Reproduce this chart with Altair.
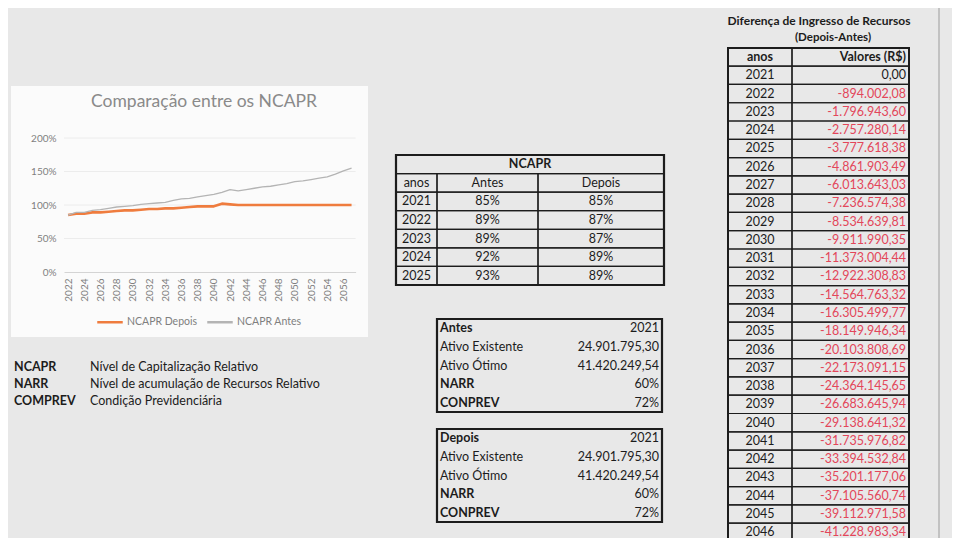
import altair as alt
import pandas as pd

# ---------------- data ----------------
CHART_TITLE = "Comparação entre os NCAPR"
SERIES = ["NCAPR Depois", "NCAPR Antes"]
YEARS = [2022, 2023, 2024, 2025, 2026, 2027, 2028, 2029, 2030, 2031, 2032, 2033,
         2034, 2035, 2036, 2037, 2038, 2039, 2040, 2041, 2042, 2043, 2044, 2045,
         2046, 2047, 2048, 2049, 2050, 2051, 2052, 2053, 2054, 2055, 2056, 2057]
NCAPR_DEPOIS = [0.85, 0.87, 0.87, 0.89, 0.89, 0.90, 0.91, 0.92, 0.92, 0.93, 0.94, 0.94,
                0.95, 0.95, 0.96, 0.97, 0.98, 0.98, 0.98, 1.02, 1.01, 1.00, 1.00, 1.00,
                1.00, 1.00, 1.00, 1.00, 1.00, 1.00, 1.00, 1.00, 1.00, 1.00, 1.00, 1.00]
NCAPR_ANTES = [0.85, 0.89, 0.89, 0.92, 0.93, 0.95, 0.97, 0.98, 0.99, 1.01, 1.02, 1.03,
               1.04, 1.07, 1.09, 1.10, 1.12, 1.14, 1.16, 1.19, 1.23, 1.21, 1.23, 1.25,
               1.27, 1.28, 1.30, 1.32, 1.35, 1.36, 1.38, 1.40, 1.42, 1.46, 1.51, 1.55]
X_TICKS = [2022, 2024, 2026, 2028, 2030, 2032, 2034, 2036, 2038, 2040, 2042, 2044,
           2046, 2048, 2050, 2052, 2054, 2056]
Y_TICKS = [0, 0.5, 1.0, 1.5, 2.0]

T1_TITLE = "NCAPR"
T1_HEAD = ["anos", "Antes", "Depois"]
T1_YEARS = [2021, 2022, 2023, 2024, 2025]
T1_ANTES = [0.85, 0.89, 0.89, 0.92, 0.93]
T1_DEPOIS = [0.85, 0.87, 0.87, 0.89, 0.89]

BOX_NAMES = ["Antes", "Depois"]
BOX_LABELS = ["Ativo Existente", "Ativo Ótimo", "NARR", "CONPREV"]
BOX_YEAR = [2021, 2021]
ATIVO_EXISTENTE = [24901795.30, 24901795.30]
ATIVO_OTIMO = [41420249.54, 41420249.54]
NARR = [0.60, 0.60]
CONPREV = [0.72, 0.72]

DIFF_TITLE = "Diferença de Ingresso de Recursos"
DIFF_SUBTITLE = "(Depois-Antes)"
DIFF_HEAD = ["anos", "Valores (R$)"]
DIFF_YEARS = [2021, 2022, 2023, 2024, 2025, 2026, 2027, 2028, 2029, 2030, 2031, 2032, 2033,
              2034, 2035, 2036, 2037, 2038, 2039, 2040, 2041, 2042, 2043, 2044, 2045, 2046]
DIFF_VALUES = [0.00, -894002.08, -1796943.60, -2757280.14, -3777618.38, -4861903.49,
               -6013643.03, -7236574.38, -8534639.81, -9911990.35, -11373004.44,
               -12922308.83, -14564763.32, -16305499.77, -18149946.34, -20103808.69,
               -22173091.15, -24364145.65, -26683645.94, -29138641.32, -31735976.82,
               -33394532.84, -35201177.06, -37105560.74, -39112971.58, -41228983.34]

GLOSS_ABBR = ["NCAPR", "NARR", "COMPREV"]
GLOSS_TEXT = ["Nível de Capitalização Relativo",
              "Nível de acumulação de Recursos Relativo",
              "Condição Previdenciária"]

# ---------------- style / layout ----------------
FONT = "Lato"
BG = "#e8e8e8"
INK = "#1c1c1c"
RED = "#e3465a"
ORANGE = "#ef7c3e"
GRAY = "#b4b4b4"
AXIS_GRAY = "#7f7f7f"
FS = 12.5
W, H = 944, 530
M = 8  # page margin: layout numbers below are page pixels


def P(v):
    return v - M


def lin(dom, rng):
    return alt.Scale(domain=dom, range=[P(rng[0]), P(rng[1])], nice=False, zero=False)


def br(x, dec=2):
    s = f"{x:,.{dec}f}"
    return s.replace(",", "X").replace(".", ",").replace("X", ".")


def pct(x):
    return f"{round(x * 100):d}%"


def grid(cells, xsc, ysc, sw=1.0):
    df = pd.DataFrame(cells, columns=["x0", "x1", "y0", "y1"])
    return alt.Chart(df).mark_rect(fillOpacity=0, stroke=INK, strokeWidth=sw).encode(
        x=alt.X("x0:Q", scale=xsc, axis=None), x2="x1",
        y=alt.Y("y0:Q", scale=ysc, axis=None), y2="y1")


def texts(rows, xsc, ysc, align="center", bold=False, size=FS, dx=0):
    df = pd.DataFrame(rows, columns=["x", "y", "t", "c"])
    return alt.Chart(df).mark_text(
        align=align, baseline="middle", font=FONT, fontSize=size,
        fontWeight="bold" if bold else "normal", dx=dx).encode(
        x=alt.X("x:Q", scale=xsc, axis=None),
        y=alt.Y("y:Q", scale=ysc, axis=None),
        text="t:N", color=alt.Color("c:N", scale=None))


one = pd.DataFrame({"k": [0]})
layers = []

# --- chart box ---
layers.append(alt.Chart(one).mark_rect(fill="#fbfbfb").encode(
    x=alt.value(P(11)), x2=alt.value(P(368)), y=alt.value(P(86)), y2=alt.value(P(337))))
layers.append(alt.Chart(one).mark_rule(color="#9c9c9c", strokeWidth=1).encode(
    x=alt.value(P(939)), y=alt.value(0), y2=alt.value(H)))

xs_line = lin([2021.5, 2057.5], [64, 355.6])
ys_line = lin([0, 2], [272, 138])

gdf = pd.DataFrame({"y": Y_TICKS[1:], "a": [2021.5] * 4, "b": [2057.5] * 4})
layers.append(alt.Chart(gdf).mark_rule(color="#ececec", strokeWidth=1).encode(
    x=alt.X("a:Q", scale=xs_line, axis=None), x2="b",
    y=alt.Y("y:Q", scale=ys_line, axis=None)))

long = pd.DataFrame({
    "ano": YEARS + YEARS,
    "v": NCAPR_DEPOIS + NCAPR_ANTES,
    "s": [SERIES[0]] * len(YEARS) + [SERIES[1]] * len(YEARS),
})
layers.append(alt.Chart(long).mark_line(strokeJoin="round").encode(
    x=alt.X("ano:Q", scale=xs_line, axis=alt.Axis(
        values=X_TICKS, format="d", labelAngle=270, labelFont=FONT, labelFontSize=10,
        labelColor=AXIS_GRAY, domainColor="#d4d4d4", ticks=False, grid=False,
        labelPadding=6, offset=-(H - P(272)), title=None, labelOverlap=False,
        labelFlush=False, zindex=1)),
    y=alt.Y("v:Q", scale=ys_line, axis=alt.Axis(
        values=Y_TICKS, format=".0%", labelFont=FONT, labelFontSize=10,
        labelColor=AXIS_GRAY, domain=False, ticks=False, grid=False,
        labelPadding=8, offset=-P(64), title=None, zindex=1)),
    color=alt.Color("s:N", scale=alt.Scale(domain=SERIES, range=[ORANGE, GRAY]),
                    legend=alt.Legend(orient="none", legendX=P(96), legendY=P(308),
                                      direction="horizontal", title=None,
                                      symbolType="stroke", symbolSize=650,
                                      symbolStrokeWidth=2.5, labelFont=FONT,
                                      labelFontSize=10.5, labelColor=AXIS_GRAY,
                                      columnPadding=4, labelOffset=3, padding=0)),
    strokeWidth=alt.condition(alt.datum.s == SERIES[0], alt.value(2.6), alt.value(1.3)),
))
layers.append(alt.Chart(one).mark_text(
    text=CHART_TITLE, font=FONT, fontSize=17.5, color="#8a8a8a", align="center",
    baseline="middle").encode(x=alt.value(P(204)), y=alt.value(P(102))))

# --- glossary ---
gx = lin([0, 1], [14, 90])
gy = lin([0, 3], [358.5, 409.5])
layers.append(texts([[0, i + 0.5, a, INK] for i, a in enumerate(GLOSS_ABBR)], gx, gy,
                    align="left", bold=True))
layers.append(texts([[1, i + 0.5, t, INK] for i, t in enumerate(GLOSS_TEXT)], gx, gy,
                    align="left"))

# --- NCAPR table ---
t1x = lin([0, 268], [396, 664])
t1n = 2 + len(T1_YEARS)
t1y = lin([0, t1n], [155, 285])
cols = [0, 41, 142, 268]
cells = [[0, 268, 0, 1]]
for r in range(1, t1n):
    for c in range(3):
        cells.append([cols[c], cols[c + 1], r, r + 1])
layers.append(grid(cells, t1x, t1y, 1.2))
layers.append(grid([[0, 268, 0, t1n]], t1x, t1y, 2.2))
mid = [(cols[c] + cols[c + 1]) / 2 for c in range(3)]
layers.append(texts([[134, 0.5, T1_TITLE, INK]], t1x, t1y, bold=True))
rows = [[mid[c], 1.5, h, INK] for c, h in enumerate(T1_HEAD)]
for i, (yr, a, d) in enumerate(zip(T1_YEARS, T1_ANTES, T1_DEPOIS)):
    rows += [[mid[0], i + 2.5, str(yr), INK], [mid[1], i + 2.5, pct(a), INK],
             [mid[2], i + 2.5, pct(d), INK]]
layers.append(texts(rows, t1x, t1y))

# --- Antes / Depois boxes ---
for b, top in enumerate([319, 429]):
    bx = lin([0, 1], [437, 662])
    by = lin([0, 5], [top, top + 93])
    layers.append(grid([[0, 1, 0, 5]], bx, by, 2.2))
    layers.append(texts([[0, 0.5, BOX_NAMES[b], INK], [0, 3.5, BOX_LABELS[2], INK],
                         [0, 4.5, BOX_LABELS[3], INK]], bx, by, align="left", bold=True, dx=3))
    layers.append(texts([[0, 1.5, BOX_LABELS[0], INK], [0, 2.5, BOX_LABELS[1], INK]],
                        bx, by, align="left", dx=3))
    layers.append(texts([[1, 0.5, str(BOX_YEAR[b]), INK],
                         [1, 1.5, br(ATIVO_EXISTENTE[b]), INK],
                         [1, 2.5, br(ATIVO_OTIMO[b]), INK],
                         [1, 3.5, pct(NARR[b]), INK],
                         [1, 4.5, pct(CONPREV[b]), INK]], bx, by, align="right", dx=-3))

# --- difference table ---
n4 = 1 + len(DIFF_YEARS)
rh = 18.28
t4x = lin([0, 181], [728, 909])
t4y = lin([0, n4], [47.9, 47.9 + n4 * rh])
c4 = [0, 64, 181]
cells = []
for r in range(n4):
    for c in range(2):
        cells.append([c4[c], c4[c + 1], r, r + 1])
layers.append(grid(cells, t4x, t4y, 1.2))
layers.append(grid([[0, 181, 0, n4]], t4x, t4y, 2.0))
layers.append(texts([[91, -1.48, DIFF_TITLE, INK]], t4x, t4y, bold=True, size=12))
layers.append(texts([[105, -0.52, DIFF_SUBTITLE, INK]], t4x, t4y, bold=True, size=11.5))
layers.append(texts([[32, 0.5, DIFF_HEAD[0], INK]], t4x, t4y, bold=True))
layers.append(texts([[181, 0.5, DIFF_HEAD[1], INK]], t4x, t4y, align="right", bold=True, dx=-3))
layers.append(texts([[32, i + 1.5, str(y), INK] for i, y in enumerate(DIFF_YEARS)], t4x, t4y))
layers.append(texts([[181, i + 1.5, br(v), RED if v < 0 else INK]
                     for i, v in enumerate(DIFF_VALUES)], t4x, t4y, align="right", dx=-3))

chart = alt.layer(*layers).resolve_scale(
    x="independent", y="independent", color="independent"
).properties(
    width=W, height=H, autosize=alt.AutoSizeParams(type="none"), padding=0,
    background=BG
).configure_view(strokeWidth=0)

chart.save("out.html", embed_options={"renderer": "svg", "actions": False})
